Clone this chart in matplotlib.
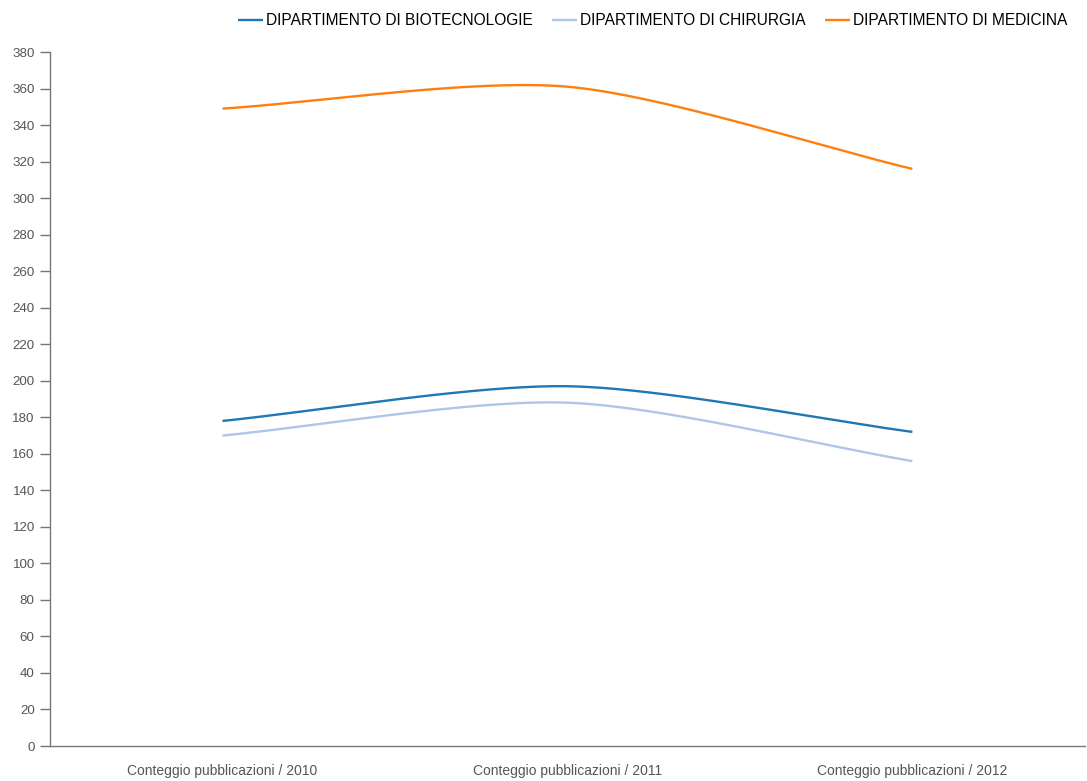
import numpy as np
import matplotlib.pyplot as plt

# Data
categories = ['Conteggio pubblicazioni / 2010',
              'Conteggio pubblicazioni / 2011',
              'Conteggio pubblicazioni / 2012']
series_names = ['DIPARTIMENTO DI BIOTECNOLOGIE',
                'DIPARTIMENTO DI CHIRURGIA',
                'DIPARTIMENTO DI MEDICINA']
biotecnologie = [178, 197, 172]
chirurgia = [170, 188, 156]
medicina = [349, 361, 316]
colors = ['#1f77b4', '#aec7e8', '#ff7f0e']
yticks = list(range(0, 381, 20))

plt.rcParams['font.family'] = ['Liberation Sans', 'DejaVu Sans']


def smooth(xs, ys, k=0.27, n=100):
    # bezier segments with finite-difference tangents, handles k * spacing
    xs = np.asarray(xs, float)
    ys = np.asarray(ys, float)
    d = np.diff(ys) / np.diff(xs)
    m = np.empty(len(xs))
    m[0] = d[0]
    m[-1] = d[-1]
    m[1:-1] = (d[:-1] + d[1:]) / 2
    t = np.linspace(0, 1, n)
    b0, b1, b2, b3 = (1 - t)**3, 3 * (1 - t)**2 * t, 3 * (1 - t) * t**2, t**3
    outx, outy = [], []
    for i in range(len(d)):
        h = xs[i + 1] - xs[i]
        cx1, cy1 = xs[i] + k * h, ys[i] + k * h * m[i]
        cx2, cy2 = xs[i + 1] - k * h, ys[i + 1] - k * h * m[i + 1]
        outx.append(b0 * xs[i] + b1 * cx1 + b2 * cx2 + b3 * xs[i + 1])
        outy.append(b0 * ys[i] + b1 * cy1 + b2 * cy2 + b3 * ys[i + 1])
    return np.concatenate(outx), np.concatenate(outy)


fig = plt.figure(figsize=(10.87, 7.81), dpi=100)
ax = fig.add_axes([0.046, 0.0448, 0.952, 0.8886])

x = np.arange(len(categories))
for name, vals, c in zip(series_names, [biotecnologie, chirurgia, medicina], colors):
    sx, sy = smooth(x, vals)
    ax.plot(sx, sy, color=c, lw=1.7, label=name, solid_capstyle='butt')

ax.set_xlim(-0.5, 2.5)
ax.set_ylim(0, 380)
ax.set_yticks(yticks)
ax.set_xticks(x)
ax.set_xticklabels(categories)

for s in ['top', 'right']:
    ax.spines[s].set_visible(False)
for s in ['left', 'bottom']:
    ax.spines[s].set_color('#777777')
    ax.spines[s].set_linewidth(1.0)

ax.tick_params(axis='y', length=7, width=1, color='#777777', labelsize=9.6, labelcolor='#555555', pad=4)
ax.tick_params(axis='x', length=0, labelsize=10, labelcolor='#555555', pad=13)

fig.legend(loc='upper right', bbox_to_anchor=(0.995, 1.001), ncol=3, frameon=False,
           handlelength=1.62, handletextpad=0.2, columnspacing=1.23, fontsize=11.2)

plt.savefig('out.png', dpi=100)
